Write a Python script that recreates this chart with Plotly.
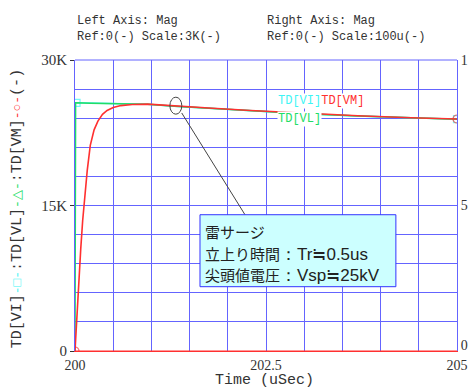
import plotly.graph_objects as go

# Waveform data (time in microseconds, values in volts)
t_vm = [200.0, 200.02, 200.043, 200.075, 200.10, 200.13, 200.16, 200.20, 200.25,
        200.30, 200.36, 200.42, 200.50, 200.60, 200.75, 200.95, 201.3, 201.8,
        202.3, 203.0, 203.7, 204.4, 205.0]
v_vm = [0, 3000, 6200, 10500, 13400, 16300, 18600, 21200, 22800,
        23700, 24400, 24800, 25100, 25300, 25420, 25450, 25250, 25020,
        24800, 24500, 24250, 24050, 23920]

t_vl = [200.0, 200.008, 200.2, 200.5, 200.95, 201.3, 201.8, 202.3, 203.0, 203.7, 204.4, 205.0]
v_vl = [0, 25600, 25550, 25500, 25430, 25220, 24990, 24770, 24470, 24220, 24020, 23880]

t_vi = [200.02, 200.2, 200.5, 200.95, 201.3, 201.8, 202.3, 203.0, 203.7, 204.4, 205.0]
v_vi = [25580, 25550, 25500, 25430, 25220, 24990, 24770, 24470, 24220, 24020, 23900]

x_tick_vals = [200, 202.5, 205]
x_tick_text = ["200", "202.5", "205"]
y_tick_vals = [0, 15000, 30000]
y_tick_text = ["0", "15K", "30K"]
# the bottom right label sits a little above the corner
y2_tick_vals = [0.02, 0.5, 1]
y2_tick_text = ["0", "5", "1"]

note_head = ["雷サージ", "立上り時間", "尖頭値電圧"]
note_tail = ["", "：Tr≒0.5us", "：Vsp≒25kV"]
note_y = [12300, 10100, 7900]

GRID = "#6464ff"
CYAN = "#3ff5f5"
GREEN = "#22dd66"
RED = "#ff3030"
TXT = "#333333"


def end_sizes(n, s):
    return [s] + [0] * (n - 2) + [s]


fig = go.Figure()
fig.add_trace(go.Scatter(
    x=t_vi, y=v_vi, mode="lines+markers", line=dict(color=CYAN, width=1.5),
    marker=dict(symbol="square-open", size=end_sizes(len(t_vi), 7), color=CYAN,
                line=dict(width=1.2)),
    name="TD[VI]"))
fig.add_trace(go.Scatter(
    x=t_vl, y=v_vl, mode="lines", line=dict(color=GREEN, width=1.5), name="TD[VL]"))
fig.add_trace(go.Scatter(
    x=t_vm, y=v_vm, mode="lines+markers", line=dict(color=RED, width=1.6),
    marker=dict(symbol="circle-open", size=end_sizes(len(t_vm), 8), color=RED,
                line=dict(width=1.2)),
    name="TD[VM]"))
# right axis carrier
fig.add_trace(go.Scatter(x=[200, 205], y=[0, 0], yaxis="y2", mode="lines",
                         line=dict(color=RED, width=1), hoverinfo="skip"))

tick_font = dict(family="Liberation Serif", size=15, color=TXT)

fig.update_layout(
    width=468, height=389,
    margin=dict(l=75, r=11, t=60, b=38, autoexpand=False),
    paper_bgcolor="white", plot_bgcolor="white",
    showlegend=False,
    xaxis=dict(range=[200, 205], tickvals=x_tick_vals, ticktext=x_tick_text,
               automargin=False, ticklabeloverflow="allow",
               showgrid=True, gridcolor=GRID, gridwidth=1,
               minor=dict(dtick=0.5, tick0=200, showgrid=True, gridcolor=GRID, gridwidth=1),
               showline=True, linecolor=RED, linewidth=1, mirror=False,
               zeroline=False, ticks="", ticklabelstandoff=1,
               tickfont=dict(family="Liberation Serif", size=14, color=TXT)),
    yaxis=dict(range=[0, 30000], tickvals=y_tick_vals, ticktext=y_tick_text,
               automargin=False,
               showgrid=True, gridcolor=GRID, gridwidth=1,
               minor=dict(dtick=3000, tick0=0, showgrid=True, gridcolor=GRID, gridwidth=1),
               showline=True, linecolor=GRID, linewidth=1,
               zeroline=False, ticks="outside", ticklen=4, tickcolor=TXT,
               tickfont=tick_font),
    yaxis2=dict(range=[0, 1], overlaying="y", side="right", automargin=False,
                ticklabeloverflow="allow",
                tickvals=y2_tick_vals, ticktext=y2_tick_text,
                showgrid=False, zeroline=False, showline=True, linecolor=GRID,
                ticks="", tickfont=dict(family="Liberation Serif", size=14, color=TXT)),
)

# top frame edge
fig.add_shape(type="line", xref="paper", yref="paper", x0=0, x1=1, y0=1, y1=1,
              line=dict(color=GRID, width=1))

# axis title for time
fig.add_annotation(xref="paper", yref="paper", x=0.497, y=-0.102, xanchor="center",
                   yanchor="middle", text="Time (uSec)", showarrow=False,
                   font=dict(family="Liberation Mono", size=15, color=TXT))

# header text
hdr_font = dict(family="Liberation Mono", size=12, color=TXT)
fig.add_annotation(xref="paper", yref="paper", x=0, y=1.107, xanchor="left", yanchor="middle",
                   text="Left Axis: Mag<br>Ref:0(-) Scale:3K(-)", showarrow=False,
                   align="left", font=hdr_font)
fig.add_annotation(xref="paper", yref="paper", x=0.497, y=1.107, xanchor="left", yanchor="middle",
                   text="Right Axis: Mag<br>Ref:0(-) Scale:100u(-)", showarrow=False,
                   align="left", font=hdr_font)

# rotated trace title with marker symbols
sym = "<span style='color:%s;font-size:13px'>-%s-</span>"
ytitle = ("TD[VI]" + sym % (CYAN, "□") + ":TD[VL]" + sym % (GREEN, "△") +
          ":TD[VM]" + sym % (RED, "○") + "(-)")
fig.add_annotation(xref="paper", yref="paper", x=-0.152, y=0.49, xanchor="center", yanchor="middle",
                   text=ytitle, textangle=-90, showarrow=False,
                   font=dict(family="Liberation Mono", size=15, color=TXT))

# trace name labels
lab_font = dict(family="Liberation Mono", size=12)
fig.add_annotation(x=202.64, y=25730, xanchor="left", yanchor="middle", showarrow=False,
                   text="<span style='color:%s'>TD[VI]</span><span style='color:%s'>TD[VM]</span>" % (CYAN, RED),
                   bgcolor="white", borderpad=0, font=lab_font)
fig.add_annotation(x=202.64, y=23920, xanchor="left", yanchor="middle", showarrow=False,
                   text="TD[VL]", bgcolor="white", borderpad=0,
                   font=dict(family="Liberation Mono", size=12, color=GREEN))

# callout: ellipse, leader line, note box
fig.add_shape(type="circle", x0=201.242, x1=201.398, y0=24414, y1=26166,
              line=dict(color="#444444", width=1))
fig.add_shape(type="line", x0=201.397, y0=24540, x1=202.225, y1=14050,
              line=dict(color="#444444", width=1))
fig.add_shape(type="rect", x0=201.636, x1=204.2, y0=6630, y1=14050,
              fillcolor="#ccffff", line=dict(color="#3333ff", width=1))
for head, tail, ly in zip(note_head, note_tail, note_y):
    fig.add_annotation(x=201.68, y=ly, xanchor="left", yanchor="middle", showarrow=False,
                       align="left",
                       text=head + "<span style='font-family:Liberation Sans;font-size:17px'>%s</span>" % tail,
                       font=dict(family="Noto Sans CJK JP", size=15, color="#222222"))

fig.write_html("out.html")
